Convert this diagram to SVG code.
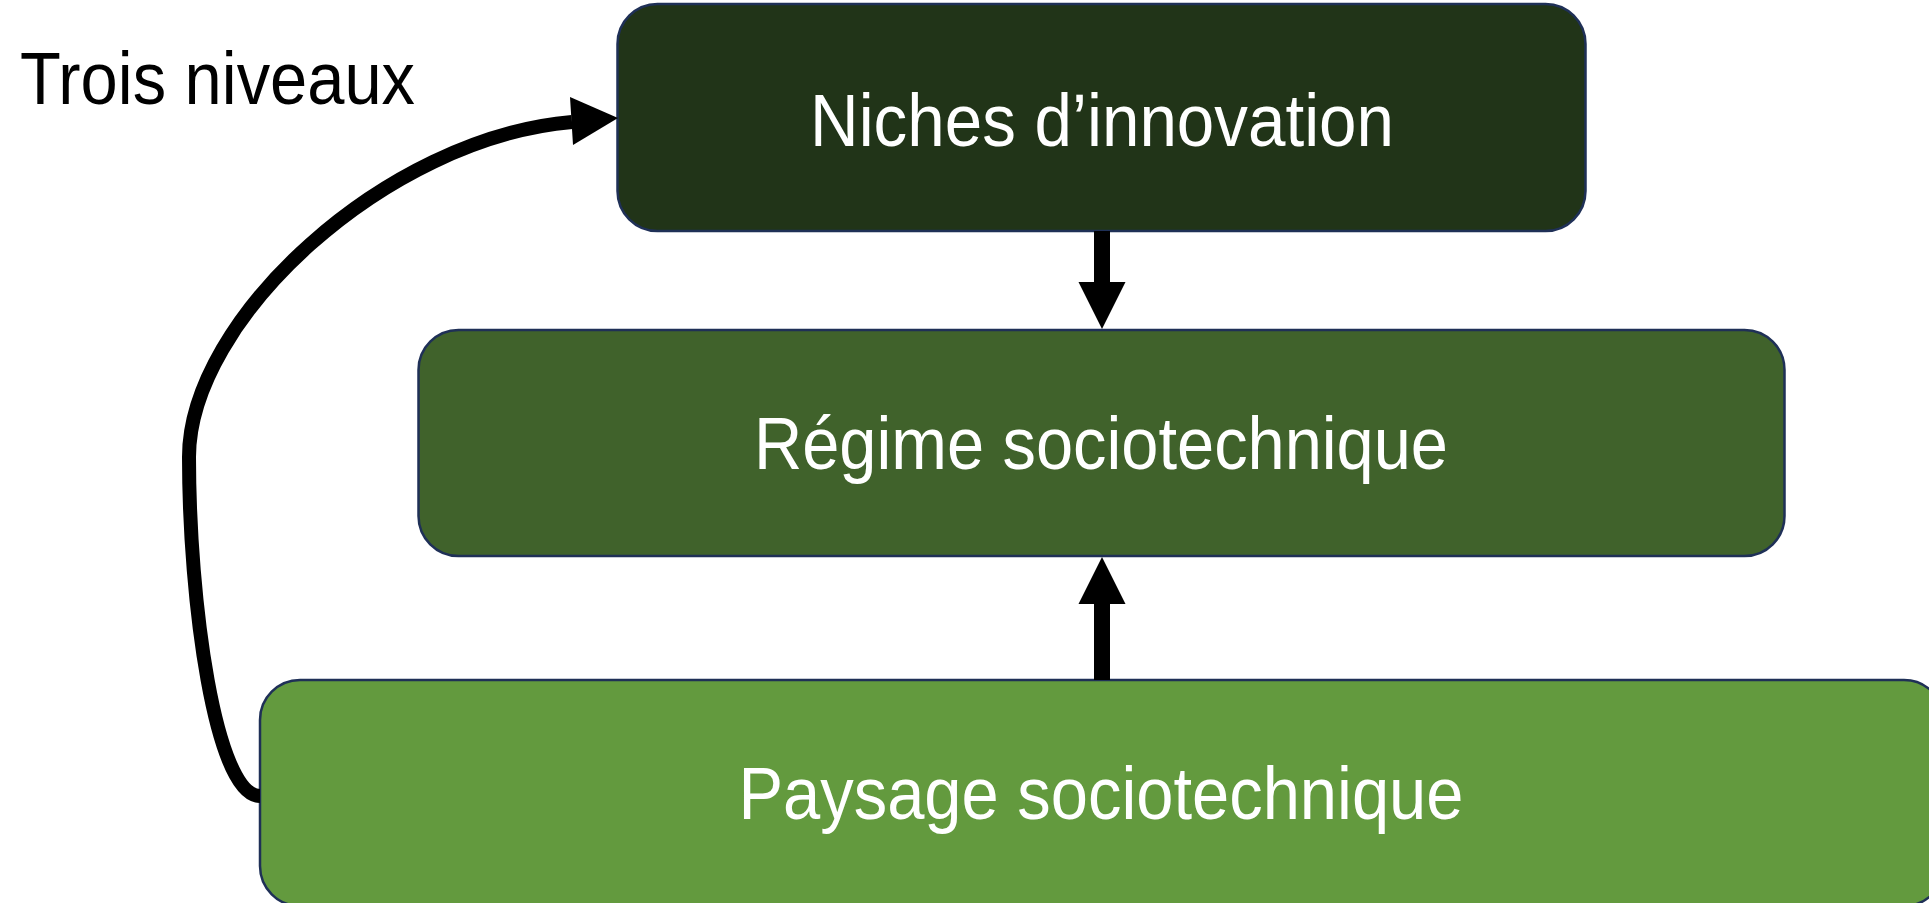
<svg xmlns="http://www.w3.org/2000/svg" width="1929" height="903" viewBox="0 0 1929 903">
<style>
.box{stroke:#1f3057;stroke-width:2.5}
.lbl{font-family:"Liberation Sans Narrow","Liberation Sans",Arial,sans-serif;font-size:75px;fill:#ffffff;text-anchor:middle}
.title{font-family:"Liberation Sans Narrow","Liberation Sans",Arial,sans-serif;font-size:74px;fill:#000000}
.conn{fill:none;stroke:#000;stroke-width:14}
.head{fill:#000}
</style>
<rect width="1929" height="903" fill="#ffffff"/>
<text class="title" x="20" y="104" textLength="395" lengthAdjust="spacingAndGlyphs">Trois niveaux</text>
<g id="niches">
<rect class="box" x="617.5" y="4" width="968" height="227" rx="40" fill="#213418"/>
<text class="lbl" x="1102" y="146" textLength="584" lengthAdjust="spacingAndGlyphs">Niches d’innovation</text>
</g>
<g id="regime">
<rect class="box" x="418.5" y="330" width="1366" height="226" rx="40" fill="#40622b"/>
<text class="lbl" x="1101" y="469" textLength="694" lengthAdjust="spacingAndGlyphs">Régime sociotechnique</text>
</g>
<g id="paysage">
<rect class="box" x="260" y="680" width="1684" height="226" rx="40" fill="#639a3e"/>
<text class="lbl" x="1101" y="819" textLength="725" lengthAdjust="spacingAndGlyphs">Paysage sociotechnique</text>
</g>
<g id="connectors">
<rect class="head" x="1094" y="231" width="16" height="52"/>
<polygon class="head" points="1078.5,282 1125.5,282 1102,329"/>
<rect class="head" x="1094" y="603" width="16" height="77"/>
<polygon class="head" points="1078.5,604 1125.5,604 1102,557"/>
<path class="conn" d="M 260 796 C 215 796 189 600 189 457 C 189 320 385 138 572 122"/>
<polygon class="head" points="618,118 570,97 573,145"/>
</g>
</svg>
